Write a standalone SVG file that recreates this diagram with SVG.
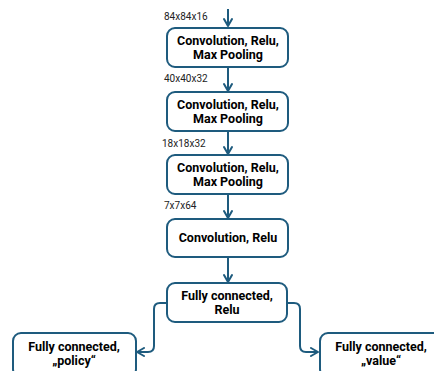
<svg xmlns="http://www.w3.org/2000/svg" width="434" height="371" viewBox="0 0 434 371">
<defs>
<marker id="ah" viewBox="0 0 10 10" refX="9" refY="5" markerWidth="10" markerHeight="10" markerUnits="userSpaceOnUse" orient="auto">
<path d="M2,1 L9,5 L2,9" fill="none" stroke="#1e5b7e" stroke-width="2" stroke-linejoin="round" stroke-linecap="round"/>
</marker>
</defs>
<style>
.box{fill:#fff;stroke:#1e5b7e;stroke-width:2}
.t{font-family:Roboto,"Liberation Sans",sans-serif;font-weight:bold;font-size:12.5px;fill:#000;text-anchor:middle}
.l{font-family:Roboto,"Liberation Sans",sans-serif;font-size:10px;fill:#222}
.c{fill:none;stroke:#1e5b7e;stroke-width:2}
</style>
<rect width="434" height="371" fill="#fff"/>
<g id="connectors">
<path class="c" d="M228,9 V26" marker-end="url(#ah)"/>
<path class="c" d="M228,67 V91" marker-end="url(#ah)"/>
<path class="c" d="M228,131 V154" marker-end="url(#ah)"/>
<path class="c" d="M228,195 V218" marker-end="url(#ah)"/>
<path class="c" d="M228,258 V282" marker-end="url(#ah)"/>
<path class="c" d="M167,303 H160 Q154,303 154,309 V346 Q154,352 148,352 H137" marker-end="url(#ah)"/>
<path class="c" d="M288,303 H294 Q300,303 300,309 V346 Q300,352 306,352 H318" marker-end="url(#ah)"/>
</g>
<g id="labels">
<text class="l" x="164" y="20">84x84x16</text>
<text class="l" x="164" y="82">40x40x32</text>
<text class="l" x="162" y="147">18x18x32</text>
<text class="l" x="164" y="209">7x7x64</text>
</g>
<g id="n1"><rect class="box" x="167" y="28" width="121" height="39" rx="8"/><text class="t" x="228" y="45">Convolution, Relu,</text><text class="t" x="228" y="59">Max Pooling</text></g>
<g id="n2"><rect class="box" x="167" y="92" width="121" height="39" rx="8"/><text class="t" x="228" y="109">Convolution, Relu,</text><text class="t" x="228" y="123">Max Pooling</text></g>
<g id="n3"><rect class="box" x="167" y="155" width="121" height="39" rx="8"/><text class="t" x="228" y="172">Convolution, Relu,</text><text class="t" x="228" y="186">Max Pooling</text></g>
<g id="n4"><rect class="box" x="167" y="219" width="121" height="38" rx="8"/><text class="t" x="228" y="242">Convolution, Relu</text></g>
<g id="n5"><rect class="box" x="167" y="283" width="120" height="39" rx="8"/><text class="t" x="227" y="300">Fully connected,</text><text class="t" x="227" y="314">Relu</text></g>
<g id="n6"><rect class="box" x="13" y="333" width="123" height="44" rx="8"/><text class="t" x="74" y="351">Fully connected,</text><text class="t" x="74" y="365">„policy“</text></g>
<g id="n7"><rect class="box" x="320" y="333" width="123" height="44" rx="8"/><text class="t" x="381" y="351">Fully connected,</text><text class="t" x="381" y="365">„value“</text></g>
</svg>
